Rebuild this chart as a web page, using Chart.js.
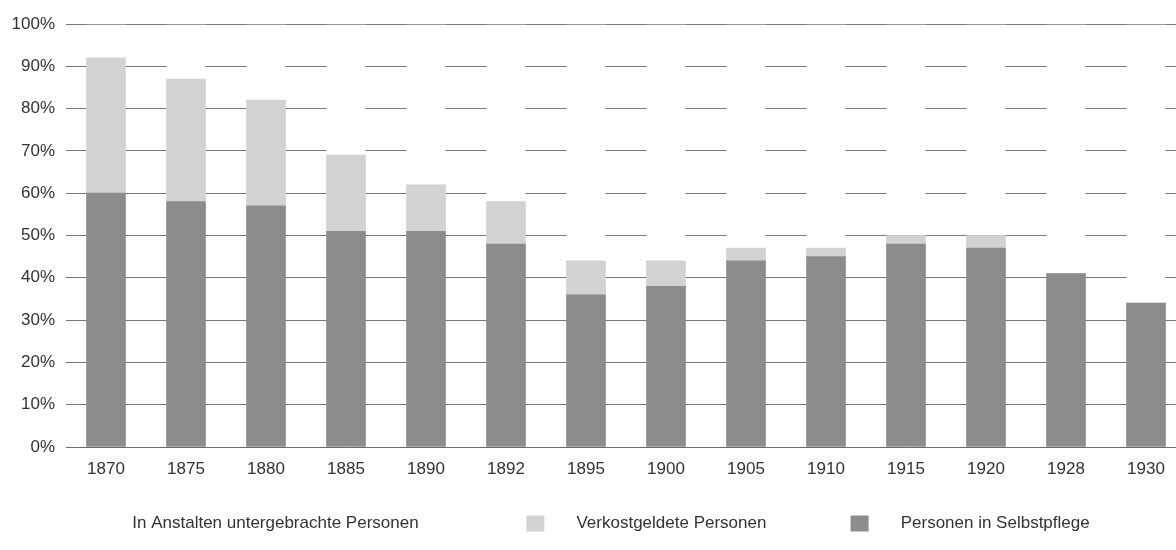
<!DOCTYPE html>
<html>
<head>
<meta charset="utf-8">
<script src="https://cdn.jsdelivr.net/npm/chart.js@4"></script>
<style>
  body { margin: 0; background: #fff; overflow: hidden; }
  #wrap { width: 1190px; height: 550px; }
</style>
</head>
<body>
<div id="wrap"><canvas id="anteile" width="1190" height="550"></canvas></div>
<script>
// Jahre und Anteile (in %)
var jahre = ['1870', '1875', '1880', '1885', '1890', '1892', '1895', '1900', '1905', '1910', '1915', '1920', '1928', '1930'];
var selbstpflege = [60, 58, 57, 51, 51, 48, 36, 38, 44, 45, 48, 47, 41, 34];
var verkostgeldet = [32, 29, 25, 18, 11, 10, 8, 6, 3, 2, 2, 3, 0, 0];
var anstalten = jahre.map(function (j, i) { return 100 - selbstpflege[i] - verkostgeldet[i]; });
var yTicks = [0, 10, 20, 30, 40, 50, 60, 70, 80, 90, 100];

var schrift = "'Liberation Sans', Arial, sans-serif";

// Leerzeichen vor/nach den Legendentexten fuer die Abstaende (je Datensatz)
function luecke(n) { return new Array(n + 1).join(' '); }
var legendeNach = [3, 14, 19];

var ctx = document.getElementById('anteile').getContext('2d');
var chart = new Chart(ctx, {
    type: 'bar',
    data: {
        labels: jahre,
        datasets: [{
            label: 'Personen in Selbstpflege',
            data: selbstpflege,
            backgroundColor: 'rgb(140, 140, 140)',
            borderWidth: 0
        }, {
            label: 'Verkostgeldete Personen',
            data: verkostgeldet,
            backgroundColor: 'rgb(210, 210, 210)',
            borderWidth: 0
        }, {
            label: 'In Anstalten untergebrachte Personen',
            data: anstalten,
            backgroundColor: '#ffffff',
            borderColor: 'rgb(120, 120, 120)',
            borderWidth: { top: 1, right: 0, bottom: 0, left: 0 },
            borderSkipped: false
        }]
    },
    options: {
        responsive: false,
        animation: false,
        layout: {
            padding: { top: 24, right: 4, bottom: 8, left: 0 }
        },
        datasets: {
            bar: {
                barThickness: 39
            }
        },
        scales: {
            x: {
                stacked: true,
                grid: { display: false, drawTicks: false },
                border: { display: true, color: 'rgb(110, 110, 110)', width: 1 },
                ticks: {
                    color: '#333',
                    font: { family: schrift, size: 17 },
                    padding: 12
                },
                afterFit: function (scale) { scale.height = 50; }
            },
            y: {
                stacked: true,
                min: 0,
                max: 100,
                afterBuildTicks: function (scale) {
                    scale.ticks = yTicks.map(function (v) { return { value: v }; });
                },
                grid: { color: 'rgb(120, 120, 120)', lineWidth: 1, drawTicks: false },
                border: { display: false },
                ticks: {
                    color: '#333',
                    font: { family: schrift, size: 17 },
                    padding: 11,
                    callback: function (v) { return v + '%'; }
                },
                afterFit: function (scale) { scale.width = 66; }
            }
        },
        plugins: {
            tooltip: { enabled: false },
            legend: {
                position: 'bottom',
                reverse: true,
                labels: {
                    color: '#333',
                    font: { family: schrift, size: 17 },
                    boxWidth: 18,
                    boxHeight: 16,
                    padding: 18,
                    generateLabels: function (chart) {
                        var items = Chart.defaults.plugins.legend.labels.generateLabels(chart);
                        items.forEach(function (it) {
                            it.text = luecke(5) + it.text + luecke(legendeNach[it.datasetIndex]);
                            it.lineWidth = 0;
                        });
                        return items;
                    }
                }
            }
        }
    }
});
</script>
</body>
</html>
